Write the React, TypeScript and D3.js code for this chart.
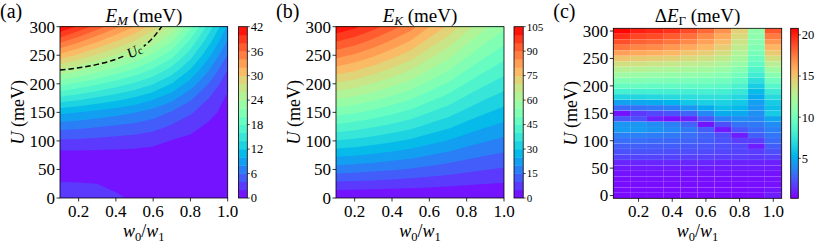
import React from "react";
import * as d3 from "d3";

const W = 830;
const H = 249;
const FONT = "Liberation Serif, DejaVu Serif, serif";

// sample points of the three maps
const wRatio = [0.1, 0.2, 0.3, 0.4, 0.5, 0.6, 0.7, 0.8, 0.9, 1.0];
const uCoarse = [0, 25, 50, 75, 100, 125, 150, 175, 200, 225, 250, 275, 300];
const uFine = [0, 10, 20, 30, 40, 50, 60, 70, 80, 90, 100, 110, 120, 130, 140, 150,
  160, 170, 180, 190, 200, 210, 220, 230, 240, 250, 260, 270, 280, 290, 300];

// axis ticks
const xTicks = [0.2, 0.4, 0.6, 0.8, 1.0];
const uTicks = [0, 50, 100, 150, 200, 250, 300];

// contour levels and colorbar ticks
const emLevels = [0, 2, 4, 6, 8, 10, 12, 14, 16, 18, 20, 22, 24, 26, 28, 30, 32, 34, 36, 38, 40, 42];
const emBarTicks = [0, 6, 12, 18, 24, 30, 36, 42];
const ekLevels = [0, 5, 10, 15, 20, 25, 30, 35, 40, 45, 50, 55, 60, 65, 70, 75, 80, 85, 90, 95, 100, 105];
const ekBarTicks = [0, 15, 30, 45, 60, 75, 90, 105];
const dEBarTicks = [5, 10, 15, 20];
const dELimits = [0.15, 20.8];

// E_M (meV): rows = uCoarse, columns = wRatio
const emGrid = [
  [2.8, 2.7, 2.5, 2.2, 1.8, 1.5, 1.3, 1.1, 1.0, 1.0],
  [2.15, 2.1, 2.0, 1.7, 1.4, 1.2, 1.1, 1.0, 0.9, 0.9],
  [1.0, 1.0, 0.9, 0.9, 0.8, 0.8, 0.7, 0.7, 0.7, 0.7],
  [1.2, 1.2, 1.2, 1.2, 1.2, 1.1, 1.0, 0.9, 0.8, 0.7],
  [3.7, 3.6, 3.4, 3.2, 3.0, 2.6, 1.9, 1.5, 1.2, 0.8],
  [6.8, 6.5, 6.1, 5.7, 5.3, 4.7, 3.7, 2.6, 1.6, 0.9],
  [10.5, 10.0, 9.4, 8.8, 8.1, 7.1, 5.8, 4.3, 2.65, 1.2],
  [15.5, 14.7, 13.7, 12.8, 11.8, 10.4, 8.7, 6.4, 4.0, 1.6],
  [20.7, 19.5, 18.3, 17.0, 15.7, 14.1, 11.9, 9.1, 5.9, 2.6],
  [26.0, 24.5, 23.0, 21.4, 19.8, 17.8, 15.3, 11.9, 8.1, 4.0],
  [31.4, 29.6, 27.7, 25.8, 23.9, 21.4, 18.7, 14.8, 10.4, 5.9],
  [36.7, 34.5, 32.3, 30.1, 28.0, 25.2, 22.1, 17.6, 12.7, 7.8],
  [42.0, 39.5, 37.0, 34.5, 32.0, 29.0, 25.5, 20.5, 15.0, 9.7],
];

// E_K (meV): rows = uCoarse, columns = wRatio
const ekGrid = [
  [0.2, 0.2, 0.2, 0.2, 0.2, 0.2, 0.2, 0.2, 0.2, 0.2],
  [8.7, 8.4, 8.1, 7.7, 7.3, 6.7, 6.2, 5.6, 5.1, 4.7],
  [17.4, 16.9, 16.2, 15.4, 14.5, 13.4, 12.4, 11.2, 10.2, 9.4],
  [26.0, 25.3, 24.2, 23.0, 21.8, 20.0, 18.5, 16.7, 15.2, 14.0],
  [34.7, 33.7, 32.3, 30.7, 29.0, 26.7, 24.7, 22.3, 20.3, 18.7],
  [43.4, 42.1, 40.4, 38.4, 36.3, 33.4, 30.9, 27.9, 25.4, 23.4],
  [52.1, 50.6, 48.5, 46.1, 43.5, 40.1, 37.1, 33.5, 30.5, 28.1],
  [60.7, 59.0, 56.5, 53.7, 50.8, 46.7, 43.2, 39.0, 35.5, 32.7],
  [69.4, 67.4, 64.6, 61.4, 58.0, 53.4, 49.4, 44.6, 40.6, 37.4],
  [78.1, 75.8, 72.7, 69.1, 65.3, 60.1, 55.6, 50.2, 45.7, 42.1],
  [86.8, 84.3, 80.8, 76.8, 72.5, 66.8, 61.8, 55.8, 50.8, 46.8],
  [95.4, 92.7, 88.8, 84.4, 79.8, 73.4, 67.9, 61.3, 55.8, 51.4],
  [104.1, 101.1, 96.9, 92.1, 87.0, 80.1, 74.1, 66.9, 60.9, 56.1],
];

// Delta E_Gamma (meV): rows = uFine, columns = wRatio
const dEGrid = [
  [0.35, 0.35, 0.35, 0.35, 0.35, 0.35, 0.35, 0.35, 0.4, 0.9],
  [0.4, 0.4, 0.4, 0.4, 0.4, 0.4, 0.4, 0.4, 0.45, 0.7],
  [0.45, 0.45, 0.45, 0.45, 0.45, 0.45, 0.45, 0.45, 0.5, 0.55],
  [0.5, 0.5, 0.5, 0.5, 0.5, 0.5, 0.5, 0.5, 0.5, 0.55],
  [0.6, 0.6, 0.6, 0.6, 0.6, 0.6, 0.6, 0.6, 0.6, 0.6],
  [0.8, 0.8, 0.8, 0.8, 0.8, 0.8, 0.8, 0.8, 0.8, 0.8],
  [1.1, 1.1, 1.1, 1.1, 1.1, 1.1, 1.0, 1.0, 1.0, 1.0],
  [1.9, 1.9, 1.9, 1.9, 1.8, 1.8, 1.7, 1.7, 1.6, 1.8],
  [2.3, 2.3, 2.3, 2.2, 2.2, 2.1, 2.0, 1.9, 1.7, 2.2],
  [2.7, 2.7, 2.6, 2.6, 2.5, 2.4, 2.2, 2.0, 0.9, 2.6],
  [3.1, 3.1, 3.0, 2.9, 2.8, 2.6, 2.3, 1.8, 1.8, 3.0],
  [3.6, 3.6, 3.5, 3.4, 3.1, 2.8, 2.2, 0.9, 2.6, 3.3],
  [4.4, 4.4, 4.2, 3.9, 3.4, 2.6, 0.8, 2.4, 3.0, 3.6],
  [4.3, 4.3, 4.0, 3.6, 2.8, 0.7, 2.2, 3.2, 3.4, 4.0],
  [2.4, 2.2, 1.0, 0.6, 1.0, 2.4, 3.6, 4.0, 3.8, 4.8],
  [0.6, 1.6, 2.0, 2.3, 2.8, 3.8, 5.0, 4.9, 4.1, 6.2],
  [3.0, 3.2, 3.4, 3.6, 4.3, 5.0, 5.8, 5.5, 4.3, 5.8],
  [4.6, 4.8, 5.0, 5.3, 6.0, 6.4, 6.5, 6.1, 4.6, 6.2],
  [6.6, 6.7, 6.8, 6.9, 7.1, 7.2, 7.2, 6.8, 5.0, 6.9],
  [8.1, 8.1, 8.1, 8.1, 8.1, 8.2, 8.1, 7.6, 5.6, 7.8],
  [9.4, 9.4, 9.3, 9.3, 9.2, 9.2, 9.0, 8.4, 6.3, 8.8],
  [10.6, 10.5, 10.4, 10.3, 10.2, 10.1, 9.9, 9.2, 7.1, 9.8],
  [11.7, 11.6, 11.4, 11.3, 11.2, 11.0, 10.7, 10.0, 7.9, 10.8],
  [12.7, 12.6, 12.4, 12.3, 12.1, 11.9, 11.5, 10.7, 8.6, 11.8],
  [13.8, 13.7, 13.5, 13.3, 13.0, 12.8, 12.3, 11.4, 9.2, 12.8],
  [15.0, 14.8, 14.6, 14.4, 14.0, 13.7, 13.1, 12.0, 9.7, 13.8],
  [16.3, 16.0, 15.8, 15.5, 15.0, 14.6, 13.9, 12.5, 10.1, 14.8],
  [17.6, 17.2, 17.0, 16.6, 16.0, 15.5, 14.6, 13.0, 10.5, 15.6],
  [18.7, 18.2, 18.0, 17.6, 17.0, 16.3, 15.3, 13.5, 10.8, 16.6],
  [19.6, 19.0, 18.8, 18.4, 17.8, 17.0, 16.0, 14.0, 11.0, 17.5],
  [20.7, 20.0, 19.8, 19.5, 18.8, 18.0, 16.8, 14.5, 11.2, 18.5],
];

// critical U_c line drawn in panel (a)
const ucW = [0.1, 0.2, 0.3, 0.4, 0.45, 0.5, 0.55, 0.6, 0.645];
const ucU = [224, 228, 234, 243, 249.5, 257, 266, 281, 300];

// panel boxes (plot area + colorbar), in px
const PA = { left: 60, right: 227.7, top: 26.7, bottom: 198, cbL: 238.5, cbR: 247.3 };
const PB = { left: 336, right: 504, top: 26.7, bottom: 198, cbL: 514, cbR: 523.2 };
const PC = { left: 613.3, right: 781.7, top: 28.3, bottom: 198.3, cbL: 790.7, cbR: 798.3 };

// matplotlib "rainbow" colormap
const rainbow = (t) => {
  const ch = (v) => Math.round(255 * Math.min(1, Math.max(0, v)));
  return `rgb(${ch(Math.abs(2 * t - 0.5))},${ch(Math.sin(Math.PI * t))},${ch(Math.cos((Math.PI * t) / 2))})`;
};

const serif = { fontFamily: FONT };

function Frame({ p, xs, ys, tag, title }) {
  const cx = (p.left + p.right) / 2;
  const cy = (p.top + p.bottom) / 2;
  return (
    <g style={serif}>
      <rect x={p.left} y={p.top} width={p.right - p.left} height={p.bottom - p.top}
        fill="none" stroke="#000" strokeWidth={0.8} />
      {xTicks.map((t) => (
        <g key={t}>
          <line x1={xs(t)} x2={xs(t)} y1={p.bottom} y2={p.bottom + 3.5} stroke="#000" strokeWidth={0.8} />
          <text x={xs(t)} y={216.5} fontSize={17} textAnchor="middle">{t.toFixed(1)}</text>
        </g>
      ))}
      {uTicks.map((u) => (
        <g key={u}>
          <line x1={p.left - 3.5} x2={p.left} y1={ys(u)} y2={ys(u)} stroke="#000" strokeWidth={0.8} />
          <text x={p.left - 5} y={ys(u) + 5.8} fontSize={17} textAnchor="end">{u}</text>
        </g>
      ))}
      <text x={cx} y={237} fontSize={18} textAnchor="middle">
        <tspan fontStyle="italic">w</tspan>
        <tspan fontSize={12.5} dy={3.5}>0</tspan>
        <tspan dy={-3.5}>/</tspan>
        <tspan fontStyle="italic">w</tspan>
        <tspan fontSize={12.5} dy={3.5}>1</tspan>
      </text>
      <text transform={`translate(${p.left - 36},${cy}) rotate(-90)`} fontSize={18} textAnchor="middle">
        <tspan fontStyle="italic">U</tspan> (meV)
      </text>
      <text x={p.left - 60} y={17.5} fontSize={20}>{tag}</text>
      <text x={cx} y={21.5} fontSize={19} textAnchor="middle">{title}</text>
    </g>
  );
}

function ContourMap({ p, grid, levels, clipId }) {
  const xs = d3.scaleLinear().domain([0.1, 1]).range([p.left, p.right]);
  const ys = d3.scaleLinear().domain([0, 300]).range([p.bottom, p.top]);
  const nx = grid[0].length;
  const ny = grid.length;
  // d3.contours puts sample i at grid coordinate i + 0.5
  const gx = d3.scaleLinear().domain([0.5, nx - 0.5]).range([xs(wRatio[0]), xs(wRatio[nx - 1])]);
  const gy = d3.scaleLinear().domain([0.5, ny - 0.5]).range([ys(uCoarse[0]), ys(uCoarse[ny - 1])]);
  const path = d3.geoPath(d3.geoTransform({
    point(x, y) { this.stream.point(gx(x), gy(y)); },
  }));
  const bands = d3.contours().size([nx, ny]).thresholds(levels.slice(0, -1))(grid.flat());
  const n = levels.length - 1;
  return (
    <g>
      <clipPath id={clipId}>
        <rect x={p.left} y={p.top} width={p.right - p.left} height={p.bottom - p.top} />
      </clipPath>
      <g clipPath={`url(#${clipId})`}>
        {bands.map((b, k) => (
          <path key={k} d={path(b) || ""} fill={rainbow((k + 0.5) / n)} />
        ))}
      </g>
    </g>
  );
}

function BandBar({ p, levels, ticks, fontSize }) {
  const cs = d3.scaleLinear().domain([levels[0], levels[levels.length - 1]]).range([p.bottom, p.top]);
  const n = levels.length - 1;
  return (
    <g style={serif}>
      {d3.range(n).map((k) => (
        <rect key={k} x={p.cbL} width={p.cbR - p.cbL} y={cs(levels[k + 1])}
          height={cs(levels[k]) - cs(levels[k + 1]) + (k > 0 ? 0.4 : 0)} fill={rainbow((k + 0.5) / n)} />
      ))}
      <rect x={p.cbL} y={p.top} width={p.cbR - p.cbL} height={p.bottom - p.top} fill="none" stroke="#000" strokeWidth={0.8} />
      {ticks.map((t) => (
        <g key={t}>
          <line x1={p.cbR} x2={p.cbR + 2.5} y1={cs(t)} y2={cs(t)} stroke="#000" strokeWidth={0.7} />
          <text x={p.cbR + 3.5} y={cs(t) + fontSize * 0.35} fontSize={fontSize}>{t}</text>
        </g>
      ))}
    </g>
  );
}

function CriticalLine({ p }) {
  const xs = d3.scaleLinear().domain([0.1, 1]).range([p.left, p.right]);
  const ys = d3.scaleLinear().domain([0, 300]).range([p.bottom, p.top]);
  const pts = ucW.map((w, i) => [xs(w), ys(ucU[i])]);
  const d = d3.line().curve(d3.curveMonotoneX)(pts);
  const lx = xs(ucW[5]);
  const ly = ys(ucU[5]);
  const ang = (Math.atan2(ys(ucU[6]) - ys(ucU[4]), xs(ucW[6]) - xs(ucW[4])) * 180) / Math.PI;
  const tr = `translate(${lx},${ly}) rotate(${ang})`;
  return (
    <g style={serif}>
      <mask id="ucMask" maskUnits="userSpaceOnUse" x={0} y={0} width={W} height={H}>
        <rect x={0} y={0} width={W} height={H} fill="#fff" />
        <rect x={-10.5} y={-6} width={21} height={12} fill="#000" transform={tr} />
      </mask>
      <path d={d} fill="none" stroke="#000" strokeWidth={1.5} strokeDasharray="5.5,3"
        mask="url(#ucMask)" clipPath="url(#clipA)" />
      <text transform={tr} y={4.5} fontSize={14.5} textAnchor="middle">
        <tspan fontStyle="italic">U</tspan>
        <tspan fontSize={11} dy={1}>c</tspan>
      </text>
    </g>
  );
}

function HeatMap({ p }) {
  const xs = d3.scaleLinear().domain([0.05, 1.05]).range([p.left, p.right]);
  const ys = d3.scaleLinear().domain([-5, 305]).range([p.bottom, p.top]);
  const color = d3.scaleSequential(rainbow).domain(dELimits);
  return (
    <g>
      {dEGrid.map((row, j) => row.map((v, i) => (
        <rect key={`${i}-${j}`} x={xs(wRatio[i] - 0.05)} y={ys(uFine[j] + 5)}
          width={xs(wRatio[i] + 0.05) - xs(wRatio[i] - 0.05)} height={ys(uFine[j] - 5) - ys(uFine[j] + 5)}
          fill={color(v)} stroke="rgba(255,255,255,0.1)" strokeWidth={0.4} />
      )))}
    </g>
  );
}

function GradientBar({ p }) {
  const cs = d3.scaleLinear().domain(dELimits).range([p.bottom, p.top]);
  const stops = d3.range(0, 1.0001, 0.05);
  return (
    <g style={serif}>
      <defs>
        <linearGradient id="dEGrad" x1="0" y1="1" x2="0" y2="0">
          {stops.map((t) => <stop key={t} offset={t} stopColor={rainbow(t)} />)}
        </linearGradient>
      </defs>
      <rect x={p.cbL} y={p.top} width={p.cbR - p.cbL} height={p.bottom - p.top} fill="url(#dEGrad)" stroke="#000" strokeWidth={0.8} />
      {dEBarTicks.map((t) => (
        <g key={t}>
          <line x1={p.cbR} x2={p.cbR + 2.5} y1={cs(t)} y2={cs(t)} stroke="#000" strokeWidth={0.7} />
          <text x={p.cbR + 3.5} y={cs(t) + 4.4} fontSize={12.5}>{t}</text>
        </g>
      ))}
    </g>
  );
}

export default function App() {
  const xsA = d3.scaleLinear().domain([0.1, 1]).range([PA.left, PA.right]);
  const ysA = d3.scaleLinear().domain([0, 300]).range([PA.bottom, PA.top]);
  const xsB = d3.scaleLinear().domain([0.1, 1]).range([PB.left, PB.right]);
  const ysB = d3.scaleLinear().domain([0, 300]).range([PB.bottom, PB.top]);
  const xsC = d3.scaleLinear().domain([0.05, 1.05]).range([PC.left, PC.right]);
  const ysC = d3.scaleLinear().domain([-5, 305]).range([PC.bottom, PC.top]);

  return (
    <svg width={W} height={H} viewBox={`0 0 ${W} ${H}`}
      style={{ position: "absolute", left: 0, top: 0, background: "#fff", fontFamily: FONT }}>
      <rect width={W} height={H} fill="#fff" />

      {/* (a) E_M */}
      <ContourMap p={PA} grid={emGrid} levels={emLevels} clipId="clipA" />
      <CriticalLine p={PA} />
      <BandBar p={PA} levels={emLevels} ticks={emBarTicks} fontSize={12.5} />
      <Frame p={PA} xs={xsA} ys={ysA} tag="(a)"
        title={<>
          <tspan fontStyle="italic">E</tspan>
          <tspan fontStyle="italic" fontSize={13} dy={3.5}>M</tspan>
          <tspan dy={-3.5}> (meV)</tspan>
        </>} />

      {/* (b) E_K */}
      <ContourMap p={PB} grid={ekGrid} levels={ekLevels} clipId="clipB" />
      <BandBar p={PB} levels={ekLevels} ticks={ekBarTicks} fontSize={11} />
      <Frame p={PB} xs={xsB} ys={ysB} tag="(b)"
        title={<>
          <tspan fontStyle="italic">E</tspan>
          <tspan fontStyle="italic" fontSize={13} dy={3.5}>K</tspan>
          <tspan dy={-3.5}> (meV)</tspan>
        </>} />

      {/* (c) Delta E_Gamma */}
      <HeatMap p={PC} />
      <GradientBar p={PC} />
      <Frame p={PC} xs={xsC} ys={ysC} tag="(c)"
        title={<>
          <tspan>Δ</tspan>
          <tspan fontStyle="italic">E</tspan>
          <tspan fontSize={13} dy={3.5}>Γ</tspan>
          <tspan dy={-3.5}> (meV)</tspan>
        </>} />
    </svg>
  );
}
